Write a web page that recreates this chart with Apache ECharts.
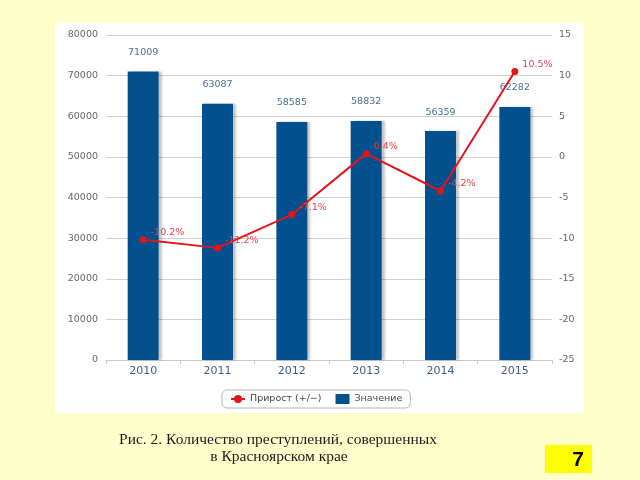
<!DOCTYPE html>
<html>
<head>
<meta charset="utf-8">
<script src="https://cdn.jsdelivr.net/npm/echarts@6/dist/echarts.min.js"></script>
<style>
html,body{margin:0;padding:0;background:#FFFFCC;}
#c{width:640px;height:480px;}
</style>
</head>
<body>
<div id="c"></div>
<script>
const years = ['2010','2011','2012','2013','2014','2015'];
const crimes = [71009, 63087, 58585, 58832, 56359, 62282];
const growth = [-10.2, -11.2, -7.1, 0.4, -4.2, 10.5];
const leftTicks = {min: 0, max: 80000, interval: 10000};
const rightTicks = {min: -25, max: 15, interval: 5};
const seriesNames = ['Прирост (+/−)', 'Значение'];
const captionLines = ['Рис. 2. Количество преступлений, совершенных', 'в Красноярском крае'];
const pageNumber = '7';

const chart = echarts.init(document.getElementById('c'), null, {renderer: 'canvas'});
const axisFont = 'DejaVu Sans';
chart.setOption({
  backgroundColor: '#FFFFCC',
  animation: false,
  graphic: [
    {type: 'rect', z: -100, silent: true, shape: {x: 55, y: 23, width: 529, height: 390}, style: {fill: '#ffffff'}},
    {type: 'text', z: 10, style: {x: 278, y: 440, text: captionLines[0], font: '15.5px "Liberation Serif"', fill: '#1a1a1a', textAlign: 'center', textVerticalAlign: 'middle'}},
    {type: 'text', z: 10, style: {x: 279, y: 457, text: captionLines[1], font: '15.5px "Liberation Serif"', fill: '#1a1a1a', textAlign: 'center', textVerticalAlign: 'middle'}},
    {type: 'rect', z: 10, shape: {x: 545, y: 445, width: 47, height: 28}, style: {fill: '#FFFF00'}},
    {type: 'text', z: 11, style: {x: 584, y: 460, text: pageNumber, font: 'bold 21px "Liberation Sans"', fill: '#000', textAlign: 'right', textVerticalAlign: 'middle'}}
  ],
  legend: {
    data: [{name: seriesNames[0]}, {name: seriesNames[1], icon: 'rect'}],
    left: 222, top: 390,
    padding: [4, 8, 4, 8],
    borderColor: '#b5b5b5', borderWidth: 1, borderRadius: 5,
    backgroundColor: '#ffffff',
    itemWidth: 14, itemHeight: 10, itemGap: 14,
    textStyle: {fontFamily: axisFont, fontSize: 9.5, color: '#444'}
  },
  grid: {left: 106, right: 88, top: 35, bottom: 120, containLabel: false},
  xAxis: {
    type: 'category', data: years, boundaryGap: true,
    axisLine: {lineStyle: {color: '#c8c8c8'}},
    axisTick: {show: true, alignWithLabel: false, length: 4, lineStyle: {color: '#c8c8c8'}},
    axisLabel: {fontFamily: axisFont, fontSize: 11, color: '#3d5f86', margin: 6}
  },
  yAxis: [
    {type: 'value', min: leftTicks.min, max: leftTicks.max, interval: leftTicks.interval,
     axisLine: {show: false}, axisTick: {show: false},
     splitLine: {lineStyle: {color: '#d0d0d0'}},
     axisLabel: {fontFamily: axisFont, fontSize: 9.5, color: '#666', margin: 8, formatter: v => String(v)}},
    {type: 'value', min: rightTicks.min, max: rightTicks.max, interval: rightTicks.interval,
     axisLine: {show: false}, axisTick: {show: false}, splitLine: {show: false},
     axisLabel: {fontFamily: axisFont, fontSize: 9.5, color: '#666', margin: 7, formatter: v => String(v)}}
  ],
  series: [
    {name: seriesNames[1], type: 'bar', yAxisIndex: 0, data: crimes, barWidth: 31, z: 2,
     itemStyle: {color: '#03508f', shadowColor: 'rgba(0,0,0,0.22)', shadowOffsetX: 3, shadowBlur: 2},
     label: {show: true, position: 'top', distance: 14, fontFamily: axisFont, fontSize: 9.5, color: '#4a6f95'}},
    {name: seriesNames[0], type: 'line', yAxisIndex: 1, data: growth, z: 5,
     symbol: 'circle', symbolSize: 7,
     lineStyle: {color: '#e0161c', width: 2},
     itemStyle: {color: '#e0161c'},
     label: {show: true, position: 'right', distance: 4, offset: [0, -7], fontFamily: axisFont, fontSize: 9.5, color: '#e8404a',
       formatter: p => p.value + '%'}}
  ]
});
</script>
</body>
</html>
